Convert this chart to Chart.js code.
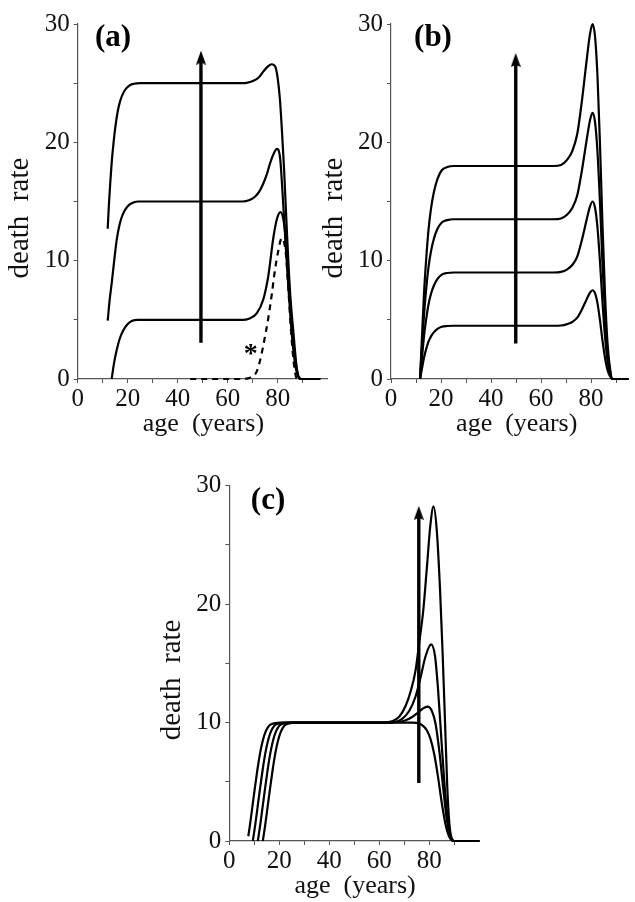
<!DOCTYPE html>
<html><head><meta charset="utf-8">
<script src="https://cdn.jsdelivr.net/npm/chart.js@4.4.1/dist/chart.umd.min.js"></script>
<style>
html,body{margin:0;padding:0;background:#fff;width:635px;height:902px;overflow:hidden}
canvas{position:absolute;left:0;top:0}
</style></head><body>
<canvas id="ca" width="635" height="902"></canvas>
<canvas id="cb" width="635" height="902"></canvas>
<canvas id="cc" width="635" height="902"></canvas>
<script>
// ---------- tick labels ----------
const xTickValues = [0, 10, 20, 30, 40, 50, 60, 70, 80, 90];
const xTickLabels = ['0', '', '20', '', '40', '', '60', '', '80', ''];
const yTickValues = [0, 5, 10, 15, 20, 25, 30];
const yTickLabels = ['0', '', '10', '', '20', '', '30'];

// ---------- panel (a) ----------
const ageA1 = [13.6, 14.5, 15.6, 16.8, 18.2, 20, 21.6, 24, 35, 50, 66, 68.5, 71.6, 74.2, 76.2, 78.3, 79.8, 81.1, 82.5, 83.6, 84.9, 86.2, 87.8, 89.6, 97];
const rateA1 = [0, 1.3, 2.45, 3.4, 4.1, 4.65, 4.9, 5, 5, 5, 5, 5.1, 5.55, 6.7, 8.65, 12.0, 13.6, 14.1, 13.2, 10.9, 6.7, 3.0, 0.6, 0, 0];
const ageA2 = [12, 12.8, 13.6, 14.6, 15.6, 16.8, 18.2, 20, 21.6, 24, 35, 50, 66, 68.5, 70.9, 72.8, 74.2, 75.8, 76.9, 78.3, 79.7, 81, 82, 83, 84, 85, 86, 87, 88, 89, 97];
const rateA2 = [4.93, 6.7, 8.1, 10.0, 11.75, 13.1, 14.0, 14.6, 14.85, 15, 15, 15, 15, 15.1, 15.4, 15.9, 16.5, 17.4, 18.2, 19.0, 19.45, 18.6, 15.5, 12.0, 8.6, 5.5, 3.0, 1.2, 0.3, 0, 0];
const ageA3 = [12, 12.5, 13, 13.6, 14.3, 15, 16, 17, 18.3, 19.6, 21, 22.5, 25, 35, 50, 66, 68, 70.3, 72.5, 74.3, 76, 77.6, 79, 80, 80.9, 81.8, 82.6, 83.6, 84.9, 86.3, 87.6, 88.9, 97];
const rateA3 = [12.7, 14.8, 16.5, 18.3, 19.9, 21.2, 22.6, 23.5, 24.2, 24.6, 24.85, 24.95, 25, 25, 25, 25, 25.05, 25.2, 25.5, 26.0, 26.4, 26.6, 26.4, 25.4, 23.6, 20.6, 17.5, 12.8, 7.5, 3.9, 1.0, 0, 0];
const ageA0 = [45, 55, 65, 68, 70, 71.6, 73, 74.2, 75.2, 76.2, 77.6, 78.9, 80.2, 81.6, 82.5, 83.3, 84.3, 85.3, 86.3, 87.3, 88];
const rateA0 = [0, 0, 0, 0.05, 0.25, 0.62, 1.6, 2.8, 3.9, 5.1, 7.1, 9.2, 10.8, 11.9, 11.6, 10.5, 7.5, 4.2, 1.6, 0.2, 0];

// ---------- panel (b) ----------
const ageB = [11.6, 12.4, 13.2, 14, 15, 16, 17.2, 18.6, 20.3, 22.5, 25, 35, 50, 65, 68, 70.5, 72.5, 74.5, 76.3, 78.3, 79.6, 80.6, 81.6, 82.6, 83.6, 84.6, 85.6, 86.6, 87.6, 88.6, 95];
const rateB1 = [0, 0.9, 1.8, 2.48, 3.15, 3.6, 3.96, 4.23, 4.41, 4.48, 4.5, 4.5, 4.5, 4.5, 4.52, 4.64, 4.82, 5.18, 5.85, 6.75, 7.29, 7.5, 7.25, 6.39, 4.95, 3.24, 1.8, 0.77, 0.23, 0, 0];
const rateB2 = [0, 1.8, 3.6, 4.95, 6.3, 7.2, 7.92, 8.46, 8.82, 8.96, 9, 9, 9, 9, 9.05, 9.27, 9.63, 10.35, 11.7, 13.5, 14.58, 15.0, 14.49, 12.78, 9.9, 6.48, 3.6, 1.53, 0.45, 0, 0];
const rateB3 = [0, 2.7, 5.4, 7.43, 9.45, 10.8, 11.88, 12.69, 13.23, 13.43, 13.5, 13.5, 13.5, 13.5, 13.57, 13.9, 14.45, 15.53, 17.55, 20.25, 21.87, 22.5, 21.74, 19.17, 14.85, 9.72, 5.4, 2.3, 0.68, 0, 0];
const rateB4 = [0, 3.6, 7.2, 9.9, 12.6, 14.4, 15.84, 16.92, 17.64, 17.91, 18, 18, 18, 18, 18.09, 18.54, 19.26, 20.7, 23.4, 27.0, 29.16, 30.0, 28.98, 25.56, 19.8, 12.96, 7.2, 3.06, 0.9, 0, 0];

// ---------- panel (c) ----------
const ageC1 = [7.6, 8.3, 9.3, 10.3, 11.3, 12.3, 13.3, 14.3, 15.3, 16.3, 18.3, 20.3, 30, 50, 73, 75, 77, 79, 80.5, 82, 83.5, 85, 86.5, 88, 89.5, 100];
const rateC1 = [0.4, 1.4, 3.0, 4.6, 6.1, 7.4, 8.4, 9.1, 9.55, 9.8, 9.95, 10, 10, 10, 10, 9.97, 9.8, 9.35, 8.6, 7.3, 5.4, 3.2, 1.4, 0.35, 0, 0];
const ageC2 = [9.4, 10.4, 11.4, 12.4, 13.4, 14.4, 15.4, 16.4, 17.4, 18.4, 20.4, 22.4, 30, 50, 62, 66, 70, 73, 75.5, 77.5, 79.3, 81, 82.5, 84, 85.5, 87, 88.5, 90, 100];
const rateC2 = [0, 1.4, 3.0, 4.6, 6.1, 7.4, 8.4, 9.1, 9.55, 9.8, 9.95, 10, 10, 10, 10, 10.02, 10.15, 10.45, 10.85, 11.2, 11.35, 11.0, 9.9, 7.6, 4.6, 1.8, 0.3, 0, 0];
const ageC3 = [11.4, 12.4, 13.4, 14.4, 15.4, 16.4, 17.4, 18.4, 19.4, 20.4, 22.4, 24.4, 30, 50, 62, 66, 69, 72, 74.5, 76.5, 78.5, 80.7, 82.3, 83.5, 84.7, 86, 87.3, 88.6, 90, 100];
const rateC3 = [0, 1.4, 3.0, 4.6, 6.1, 7.4, 8.4, 9.1, 9.55, 9.8, 9.95, 10, 10, 10, 10, 10.05, 10.3, 11.0, 12.2, 13.8, 15.6, 16.6, 15.6, 12.8, 9.0, 5.0, 2.0, 0.4, 0, 0];
const ageC4 = [13.4, 14.4, 15.4, 16.4, 17.4, 18.4, 19.4, 20.4, 21.4, 22.4, 24.4, 26.4, 35, 50, 62, 65, 68, 70.5, 72.5, 74.5, 76, 77.6, 79, 80.4, 81.7, 83, 84.3, 85.3, 86.3, 87.2, 88.1, 89, 90, 100];
const rateC4 = [0, 1.4, 3.0, 4.6, 6.1, 7.4, 8.4, 9.1, 9.55, 9.8, 9.95, 10, 10, 10, 10, 10.1, 10.5, 11.4, 12.6, 14.4, 16.8, 19.5, 23.0, 26.6, 28.25, 26.2, 21.2, 16.0, 10.0, 4.5, 1.3, 0.2, 0, 0];

// ---------- arrows (a, b, c) ----------
const arrowAge = [49.3, 49.9, 75.8];
const arrowFrom = [3.07, 3.0, 4.9];
const arrowTip = [27.75, 27.55, 28.3];

// ---------- texts ----------
const yTitle = 'death  rate';
const xTitle = 'age  (years)';
const panelLabels = ['(a)', '(b)', '(c)'];
const starText = '*';

// ================= rendering =================
const SERIF = '"Liberation Serif", "Times New Roman", serif';
const PX_PER_UNIT_Y = 355 / 30;

function pts(xs, ys) { return xs.map((x, i) => ({ x: x, y: ys[i] })); }

function arrowHeadImg() {
  const c = document.createElement('canvas');
  c.width = 10; c.height = 14;
  const g = c.getContext('2d');
  g.fillStyle = '#000';
  g.beginPath(); g.moveTo(5, 0); g.lineTo(10, 14); g.lineTo(5, 12); g.lineTo(0, 14); g.closePath(); g.fill();
  return c;
}
const HEAD = arrowHeadImg();

function curve(xs, ys, dashed) {
  return {
    data: pts(xs, ys), borderColor: '#000', borderWidth: 2.2, pointRadius: 0,
    cubicInterpolationMode: 'monotone', borderDash: dashed ? [6, 5] : [], clip: false, fill: false
  };
}
function arrow(i) {
  const headCenter = arrowTip[i] - 7 / PX_PER_UNIT_Y;
  return {
    data: [{ x: arrowAge[i], y: arrowFrom[i] }, { x: arrowAge[i], y: headCenter }],
    borderColor: '#000', borderWidth: 3.4, borderCapStyle: 'butt',
    pointRadius: [0, 5], pointStyle: ['circle', HEAD], pointBackgroundColor: '#000', pointBorderWidth: 0,
    clip: false, fill: false
  };
}

const panelText = {
  id: 'panelText',
  afterDraw(chart, _args, o) {
    const { ctx, chartArea: ca } = chart;
    const xs = chart.scales.x, ys = chart.scales.y;
    ctx.save();
    ctx.fillStyle = '#111';
    ctx.textAlign = 'center';
    ctx.textBaseline = 'middle';
    // y title
    ctx.font = o.yTitleSize + 'px ' + SERIF;
    ctx.save();
    ctx.translate(ca.left - 57, ys.getPixelForValue(13.6));
    ctx.rotate(-Math.PI / 2);
    ctx.fillText(yTitle, 0, 0);
    ctx.restore();
    // x title
    ctx.font = o.xTitleSize + 'px ' + SERIF;
    ctx.fillText(xTitle, xs.getPixelForValue(50.3), ca.bottom + 45);
    // panel label
    ctx.font = 'bold 31px ' + SERIF;
    ctx.fillStyle = '#000';
    ctx.fillText(o.label, xs.getPixelForValue(o.labelAt[0]), ys.getPixelForValue(o.labelAt[1]));
    // asterisk
    if (o.star) {
      ctx.font = 'bold 28px ' + SERIF;
      ctx.textBaseline = 'alphabetic';
      ctx.fillText(starText, xs.getPixelForValue(o.star[0]), ys.getPixelForValue(o.star[1]) + 14);
    }
    ctx.restore();
  }
};

function makePanel(id, box, xMax, datasets, label, labelAt, star) {
  const yw = 70, xh = 60;
  const pad = { left: box.left - yw, top: box.top, right: 635 - box.right, bottom: 902 - box.bottom - xh };
  const tickFont = { family: SERIF, size: 25 };
  new Chart(document.getElementById(id), {
    type: 'line',
    data: { datasets: datasets },
    plugins: [panelText],
    options: {
      responsive: false, animation: false, devicePixelRatio: 1,
      layout: { padding: pad },
      plugins: {
        legend: { display: false }, tooltip: { enabled: false },
        panelText: { label: label, labelAt: labelAt, star: star, yTitleSize: 29, xTitleSize: 26 }
      },
      scales: {
        x: {
          type: 'linear', min: 0, max: xMax,
          afterBuildTicks: s => { s.ticks = xTickValues.map(v => ({ value: v })); },
          afterFit: s => { s.height = xh; },
          ticks: { autoSkip: false, maxRotation: 0, padding: 1, color: '#111', font: tickFont,
                   callback: (v, i) => xTickLabels[i] },
          grid: { display: true, drawOnChartArea: false, drawTicks: true, tickLength: 4, tickColor: '#555', tickWidth: 1 },
          border: { display: true, color: '#555', width: 1.2 }
        },
        y: {
          type: 'linear', min: 0, max: 30,
          afterBuildTicks: s => { s.ticks = yTickValues.map(v => ({ value: v })); },
          afterFit: s => { s.width = yw; },
          ticks: { autoSkip: false, padding: 4, color: '#111', font: tickFont,
                   callback: (v, i) => yTickLabels[i] },
          grid: { display: true, drawOnChartArea: false, drawTicks: true, tickLength: 4, tickColor: '#555', tickWidth: 1 },
          border: { display: true, color: '#555', width: 1.2 }
        }
      }
    }
  });
}

makePanel('ca', { left: 77.7, right: 327.7, top: 24, bottom: 379 }, 100, [
  arrow(0),
  curve(ageA3, rateA3), curve(ageA2, rateA2), curve(ageA1, rateA1), curve(ageA0, rateA0, true)
], panelLabels[0], [14.1, 28.8], [69.2, 2.66]);

makePanel('cb', { left: 391, right: 628.5, top: 24, bottom: 379 }, 95, [
  arrow(1),
  curve(ageB, rateB4), curve(ageB, rateB3), curve(ageB, rateB2), curve(ageB, rateB1)
], panelLabels[1], [16.8, 28.8], null);

makePanel('cc', { left: 229.3, right: 479.3, top: 485.7, bottom: 841 }, 100, [
  arrow(2),
  curve(ageC4, rateC4), curve(ageC3, rateC3), curve(ageC2, rateC2), curve(ageC1, rateC1)
], panelLabels[2], [15.5, 28.7], null);
</script></body></html>
